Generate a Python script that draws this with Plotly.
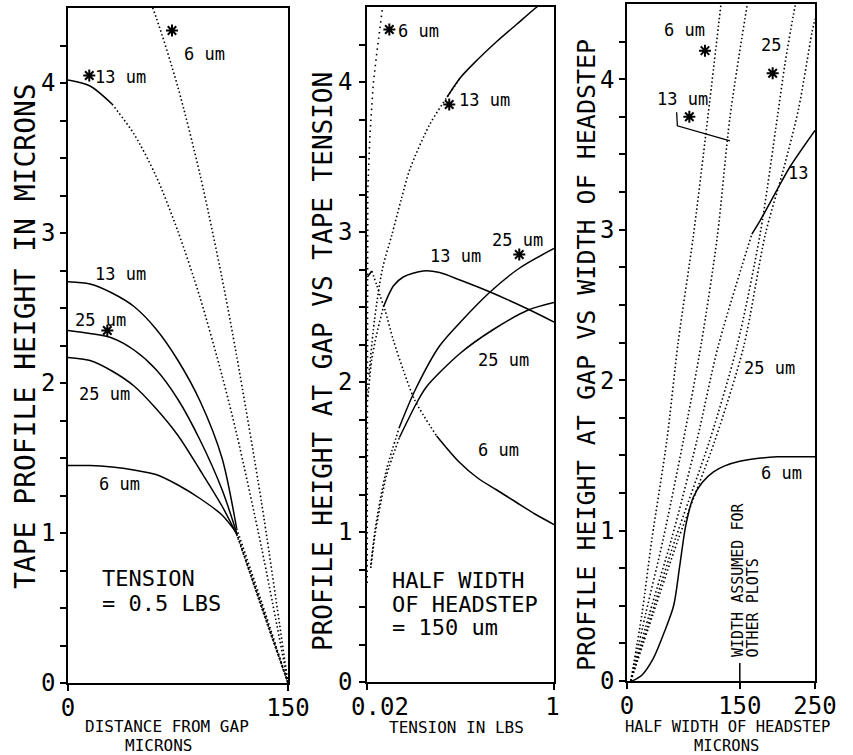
import plotly.graph_objects as go

W, H = 853, 755
FONT = "DejaVu Sans Mono"

# ---------------- Panel 1 : tape profile vs distance from gap ----------------
dist_um = [0, 15, 30, 45, 60, 75, 90, 105, 115, 132, 150]
p1_6um_star = [5.29, 5.24, 5.08, 4.81, 4.44, 3.97, 3.39, 2.70, 2.18, 1.20, 0.0]
p1_13um_star = [4.02, 3.98, 3.86, 3.66, 3.38, 3.01, 2.57, 2.05, 1.66, 0.90, 0.0]
p1_13um = [2.675, 2.66, 2.60, 2.51, 2.36, 2.15, 1.88, 1.50, 1.03, 0.54, 0.0]
p1_25um_star = [2.35, 2.33, 2.30, 2.22, 2.09, 1.89, 1.62, 1.29, 1.00, 0.52, 0.0]
p1_25um = [2.17, 2.15, 2.08, 1.98, 1.83, 1.65, 1.42, 1.18, 0.99, 0.51, 0.0]
p1_6um = [1.45, 1.45, 1.44, 1.42, 1.39, 1.32, 1.23, 1.12, 1.00, 0.50, 0.0]
p1_star_x = [14.5, 70.9, 26.8]
p1_star_y = [4.05, 4.35, 2.35]
p1_labels = ["13 um", "6 um", "13 um", "25 um", "25 um", "6 um"]
p1_label_x = [36, 93, 36, 22, 25, 35]
p1_label_y = [4.04, 4.19, 2.73, 2.42, 1.93, 1.33]

# ---------------- Panel 2 : height at gap vs tension ----------------
t_6um_star = [0.021, 0.021, 0.022, 0.024, 0.036, 0.053, 0.070, 0.088, 0.102, 0.11]
p2_6um_star = [0.66, 1.60, 2.60, 3.28, 3.66, 3.99, 4.18, 4.35, 4.50, 4.58]
t_13um_star = [0.03, 0.06, 0.10, 0.15, 0.20, 0.245, 0.35, 0.44, 0.51, 0.60, 0.70, 0.80, 0.91, 1.0]
p2_13um_star = [2.05, 2.42, 2.75, 2.98, 3.22, 3.42, 3.72, 3.90, 4.03, 4.15, 4.27, 4.38, 4.50, 4.59]
t_13um = [0.025, 0.045, 0.071, 0.106, 0.158, 0.21, 0.315, 0.40, 0.507, 0.665, 0.857, 1.0]
p2_13um = [1.90, 2.15, 2.32, 2.50, 2.64, 2.70, 2.74, 2.73, 2.68, 2.60, 2.49, 2.40]
t_25um_star = [0.04, 0.062, 0.09, 0.123, 0.19, 0.27, 0.40, 0.51, 0.665, 0.82, 1.0]
p2_25um_star = [0.78, 1.01, 1.22, 1.42, 1.70, 1.94, 2.24, 2.40, 2.60, 2.76, 2.89]
t_25um = [0.04, 0.062, 0.09, 0.123, 0.19, 0.28, 0.333, 0.507, 0.682, 0.865, 1.0]
p2_25um = [0.76, 0.98, 1.18, 1.38, 1.63, 1.86, 1.97, 2.19, 2.35, 2.48, 2.53]
t_6um = [0.022, 0.045, 0.07, 0.09, 0.114, 0.158, 0.21, 0.27, 0.385, 0.5, 0.6, 0.7, 0.8, 0.9, 1.0]
p2_6um = [2.70, 2.74, 2.65, 2.57, 2.48, 2.28, 2.08, 1.88, 1.64, 1.47, 1.36, 1.28, 1.20, 1.12, 1.05]
p2_star_x = [0.137, 0.451, 0.818]
p2_star_y = [4.35, 3.85, 2.85]
p2_labels = ["6 um", "13 um", "13 um", "25 um", "25 um", "6 um"]
p2_label_x = [0.29, 0.635, 0.486, 0.81, 0.733, 0.707]
p2_label_y = [4.34, 3.88, 2.84, 2.95, 2.15, 1.55]

# ---------------- Panel 3 : height at gap vs half width of headstep ----------------
w_6um_star = [5, 20, 33, 53, 68, 88, 104, 125]
p3_6um_star = [0.0, 0.45, 0.94, 1.60, 2.25, 2.95, 3.60, 4.50]
w_13um_star = [5, 25, 48, 75, 99, 120, 137, 160]
p3_13um_star = [0.0, 0.45, 0.94, 1.60, 2.25, 2.95, 3.75, 4.50]
w_13um = [5, 30, 59, 93, 121, 166, 177, 199, 217, 250]
p3_13um = [0.0, 0.45, 0.94, 1.60, 2.22, 2.97, 3.06, 3.26, 3.42, 3.66]
w_25um = [5, 33, 64, 110, 146, 177, 200, 210, 221, 226]
p3_25um = [0.0, 0.45, 0.94, 1.60, 2.22, 2.97, 3.75, 4.10, 4.42, 4.55]
w_25um_star = [5, 35, 68, 117, 155, 184, 208, 228, 246, 250]
p3_25um_star = [0.0, 0.45, 0.94, 1.60, 2.22, 2.97, 3.40, 3.80, 4.31, 4.40]
w_6um = [7, 20, 35, 50, 62, 70, 78, 88, 100, 115, 130, 150, 175, 200, 250]
p3_6um = [0.0, 0.04, 0.15, 0.33, 0.50, 0.76, 1.03, 1.22, 1.32, 1.39, 1.43, 1.46, 1.48, 1.49, 1.49]
p3_star_x = [103.7, 82.9, 193.7]
p3_star_y = [4.19, 3.75, 4.04]
p3_labels = ["6 um", "25", "13 um", "13", "25 um", "6 um"]
p3_label_x = [76, 191, 74, 227, 189, 205]
p3_label_y = [4.33, 4.23, 3.87, 3.38, 2.08, 1.38]
p3_leader_x = [66, 67, 137]
p3_leader_y = [3.78, 3.69, 3.59]

# axis ticks
y_tick_vals = [i * 0.25 for i in range(18)]
y_tick_text = ["0", "", "", "", "1", "", "", "", "2", "", "", "", "3", "", "", "", "4", ""]
x1_ticks, x1_text = [0, 150], ["0", "150"]
x2_ticks, x2_text = [0.02, 1.0], ["0.02", "1\u00a0\u00a0"]
x3_ticks, x3_text = [0, 150, 250], ["0", "150", "250"]

fig = go.Figure()

SOLID = dict(color="black", width=1.5, shape="spline", smoothing=0.8)
DOT = dict(color="black", width=1.6, dash="1.5px,2.5px", shape="spline", smoothing=0.8)
DOT_LIN = dict(color="black", width=1.6, dash="1.5px,4px")


def seg(x, y, i0, i1, line, xa, ya):
    fig.add_trace(go.Scatter(x=x[i0:i1], y=y[i0:i1], mode="lines", line=line,
                             xaxis=xa, yaxis=ya, showlegend=False, hoverinfo="skip"))


# panel 1
seg(dist_um, p1_6um_star, 0, 11, DOT, "x", "y")
seg(dist_um, p1_13um_star, 0, 3, SOLID, "x", "y")
seg(dist_um, p1_13um_star, 2, 11, DOT, "x", "y")
for arr in (p1_13um, p1_25um_star, p1_25um, p1_6um):
    seg(dist_um, arr, 0, 9, SOLID, "x", "y")
    seg(dist_um, arr, 8, 11, DOT, "x", "y")

# panel 2
seg(t_6um_star, p2_6um_star, 0, 10, DOT_LIN, "x2", "y2")
seg(t_13um_star, p2_13um_star, 0, 9, DOT, "x2", "y2")
seg(t_13um_star, p2_13um_star, 7, 14, SOLID, "x2", "y2")
seg(t_13um, p2_13um, 0, 4, DOT, "x2", "y2")
seg(t_13um, p2_13um, 3, 12, SOLID, "x2", "y2")
seg(t_25um_star, p2_25um_star, 0, 5, DOT, "x2", "y2")
seg(t_25um_star, p2_25um_star, 4, 11, SOLID, "x2", "y2")
seg(t_25um, p2_25um, 0, 5, DOT, "x2", "y2")
seg(t_25um, p2_25um, 4, 11, SOLID, "x2", "y2")
seg(t_6um, p2_6um, 0, 2, SOLID, "x2", "y2")
seg(t_6um, p2_6um, 1, 9, DOT, "x2", "y2")
seg(t_6um, p2_6um, 8, 15, SOLID, "x2", "y2")

# panel 3
seg(w_6um_star, p3_6um_star, 0, 8, DOT, "x3", "y3")
seg(w_13um_star, p3_13um_star, 0, 8, DOT, "x3", "y3")
seg(w_25um, p3_25um, 0, 10, DOT, "x3", "y3")
seg(w_25um_star, p3_25um_star, 0, 10, DOT, "x3", "y3")
seg(w_13um, p3_13um, 0, 6, DOT, "x3", "y3")
seg(w_13um, p3_13um, 5, 10, SOLID, "x3", "y3")
seg(w_6um, p3_6um, 0, 15, SOLID, "x3", "y3")
fig.add_trace(go.Scatter(x=p3_leader_x, y=p3_leader_y, mode="lines",
                         line=dict(color="black", width=1.3), xaxis="x3", yaxis="y3",
                         showlegend=False, hoverinfo="skip"))

# stars
STAR = dict(symbol="asterisk-open", size=10, color="black", line=dict(color="black", width=2))
for sx, sy, xa, ya in ((p1_star_x, p1_star_y, "x", "y"),
                       (p2_star_x, p2_star_y, "x2", "y2"),
                       (p3_star_x, p3_star_y, "x3", "y3")):
    fig.add_trace(go.Scatter(x=sx, y=sy, mode="markers", marker=STAR, xaxis=xa, yaxis=ya,
                             showlegend=False, hoverinfo="skip"))

annotations = []
LBL = dict(family=FONT, size=17, color="black")
for labels, lx, ly, xr, yr in ((p1_labels, p1_label_x, p1_label_y, "x", "y"),
                               (p2_labels, p2_label_x, p2_label_y, "x2", "y2"),
                               (p3_labels, p3_label_x, p3_label_y, "x3", "y3")):
    for t, x, y in zip(labels, lx, ly):
        annotations.append(dict(text=t, x=x, y=y, xref=xr, yref=yr, showarrow=False,
                                font=LBL, xanchor="center", yanchor="middle"))

BIG = dict(family=FONT, size=22, color="black")
for t, y in (("TENSION", 0.70), ("= 0.5 LBS", 0.53)):
    annotations.append(dict(text=t, x=21.8, y=y, xref="x", yref="y", showarrow=False,
                            font=BIG, xanchor="left", yanchor="middle"))
for t, y in (("HALF WIDTH", 0.674), ("OF HEADSTEP", 0.52), ("= 150 um", 0.365)):
    annotations.append(dict(text=t, x=0.14, y=y, xref="x2", yref="y2", showarrow=False,
                            font=BIG, xanchor="left", yanchor="middle"))


def px(xp, yp):
    return xp / W, (H - yp) / H


# axis titles
for t, xp, yp, size in (("TAPE PROFILE HEIGHT IN MICRONS", 25, 336, 28),
                        ("PROFILE HEIGHT AT GAP VS TAPE TENSION", 323, 362, 26),
                        ("PROFILE HEIGHT AT GAP VS WIDTH OF HEADSTEP", 587, 355, 25)):
    x, y = px(xp, yp)
    annotations.append(dict(text=t, x=x, y=y, xref="paper", yref="paper", showarrow=False,
                            textangle=-90, font=dict(family=FONT, size=size, color="black"),
                            xanchor="center", yanchor="middle"))
for t, xp, yp, fs in (("DISTANCE FROM GAP", 167, 726, 16), ("MICRONS", 158, 745, 16),
                      ("TENSION IN LBS", 456, 727, 16),
                      ("HALF WIDTH OF HEADSTEP", 727, 727, 15.5), ("MICRONS", 726, 745.5, 15.5)):
    x, y = px(xp, yp)
    annotations.append(dict(text=t, x=x, y=y, xref="paper", yref="paper", showarrow=False,
                            font=dict(family=FONT, size=fs, color="black"),
                            xanchor="center", yanchor="middle", borderpad=0))
for t, xp, yp in (("WIDTH ASSUMED FOR", 738, 580), ("OTHER PLOTS", 752.5, 608)):
    x, y = px(xp, yp)
    annotations.append(dict(text=t, x=x, y=y, xref="paper", yref="paper", showarrow=False,
                            textangle=-90, font=dict(family=FONT, size=15, color="black"),
                            xanchor="center", yanchor="middle"))

AX = dict(showline=True, linecolor="black", linewidth=1.6, mirror=True, ticks="outside",
          ticklen=6, tickwidth=1.5, tickcolor="black", showgrid=False, zeroline=False,
          tickfont=dict(family=FONT, size=24, color="black"))
XAX = dict(AX, ticklabelstandoff=-4)
YAX = dict(AX, ticklabelstandoff=0)


def ydom(bot, top):
    return [(H - bot) / H, (H - top) / H]


layout = dict(
    width=W, height=H, margin=dict(l=0, r=0, t=0, b=0, autoexpand=False),
    paper_bgcolor="white", plot_bgcolor="white", annotations=annotations,
    xaxis=dict(XAX, domain=[68 / W, 288 / W], range=[0, 150], tickvals=x1_ticks,
               ticktext=x1_text, anchor="y"),
    yaxis=dict(YAX, domain=ydom(683, 8), range=[0, 4.5], tickvals=y_tick_vals,
               ticktext=y_tick_text, anchor="x"),
    xaxis2=dict(XAX, domain=[367 / W, 554 / W], range=[0.02, 1.0], tickvals=x2_ticks,
                ticktext=x2_text, anchor="y2", ticklabelshift=13),
    yaxis2=dict(YAX, domain=ydom(682, 7), range=[0, 4.5], tickvals=y_tick_vals,
                ticktext=y_tick_text, anchor="x2", ticklabelstandoff=2),
    xaxis3=dict(XAX, domain=[627 / W, 815 / W], range=[0, 250], tickvals=x3_ticks,
                ticktext=x3_text, anchor="y3"),
    yaxis3=dict(YAX, domain=ydom(681, 4), range=[0, 4.5], tickvals=y_tick_vals,
                ticktext=y_tick_text, anchor="x3"),
    shapes=[dict(type="line", xref="x3", yref="y3", x0=150, x1=150, y0=0, y1=0.12,
                 line=dict(color="black", width=1.5))],
)
fig.update_layout(**layout)
fig.write_html("out.html", config={"displayModeBar": False},
               post_script="document.body.style.margin='0px';document.body.style.overflow='hidden';")
